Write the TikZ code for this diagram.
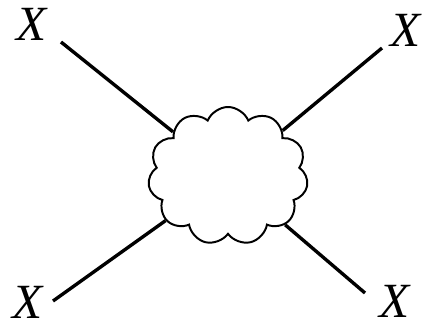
\documentclass[tikz,border=0pt]{standalone}
\usepackage{fontspec}
\setmainfont{Liberation Serif}
\usetikzlibrary{shapes.symbols}

\begin{document}
\begin{tikzpicture}[
  leg/.style={line width=2.4pt},
  blob/.style={draw, cloud, cloud puffs=11, cloud puff arc=135, aspect=1.2,
    minimum width=4cm, minimum height=3.45cm, inner sep=0pt, line width=1.4pt},
  lbl/.style={font=\fontsize{35}{42}\selectfont\itshape, inner sep=0pt}]
  \useasboundingbox (0,0) rectangle (10.575,8.2);
  % 中间的云
  \node[blob] (cloud) at (5.7,3.8) {};
  % 四个外端点
  \coordinate (ul) at (1.525,7.15);
  \coordinate (ur) at (9.55,7.0);
  \coordinate (ll) at (1.325,0.675);
  \coordinate (lr) at (9.125,0.875);

  \draw[leg] (ul) -- (cloud);
  \draw[leg] (ur) -- (cloud);
  \draw[leg] (ll) -- (cloud);
  \draw[leg] (lr) -- (cloud);

  \node[lbl] (xul) at (0.8,7.6) {X};
  \node[lbl] (xur) at (10.15,7.45) {X};
  \node[lbl] (xll) at (0.7,0.65) {X};
  \node[lbl] (xlr) at (9.875,0.66) {X};
\end{tikzpicture}
\end{document}
